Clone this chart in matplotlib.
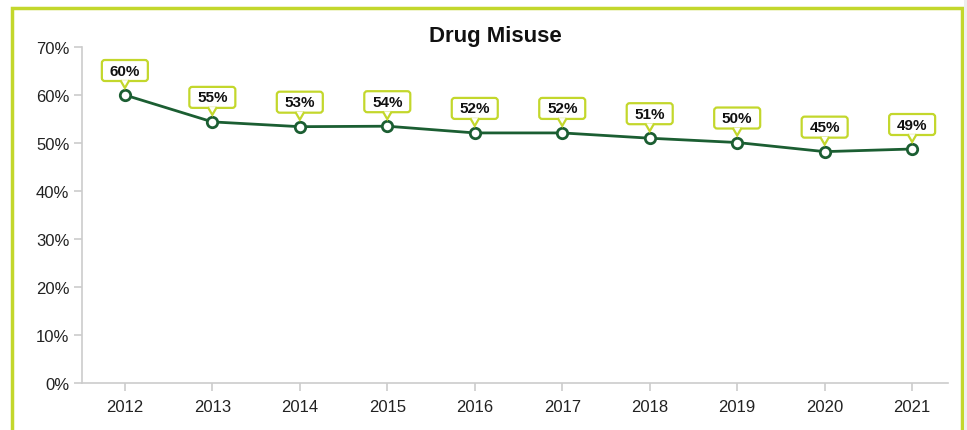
import matplotlib
matplotlib.use("Agg")
import matplotlib.pyplot as plt
from matplotlib import transforms
from matplotlib.patches import Rectangle, FancyBboxPatch, Polygon
from matplotlib.ticker import PercentFormatter

# data
years = ["2012", "2013", "2014", "2015", "2016", "2017", "2018", "2019", "2020", "2021"]
values = [60.0, 54.4, 53.4, 53.5, 52.1, 52.1, 51.0, 50.1, 48.2, 48.75]
labels = ["60%", "55%", "53%", "54%", "52%", "52%", "51%", "50%", "45%", "49%"]
y_ticks = [0, 10, 20, 30, 40, 50, 60, 70]

line_color = "#1b5e32"
lime = "#c3d72c"
axis_gray = "#cccccc"

plt.rcParams["font.family"] = ["Liberation Sans", "DejaVu Sans"]

fig = plt.figure(figsize=(9.67, 4.31), dpi=100)
W, H = 967.0, 431.0

# lime frame around the chart (bottom edge is cut off in the reference)
fig.patches.append(Rectangle((12 / W, -0.05), 950 / W, 1.05 - 9 / H,
                             transform=fig.transFigure, fill=False,
                             ec=lime, lw=2.5, zorder=0))
fig.patches.append(Rectangle((964 / W, 0), 3 / W, 1,
                             transform=fig.transFigure, fc="#eeeeee",
                             ec="none", zorder=0))

ax = fig.add_axes([82 / W, 1 - 384 / H, (948 - 82) / W, (384 - 48) / H])
x = list(range(len(years)))

ax.set_xlim(-0.49, 9.41)
ax.set_ylim(0, 70)

ax.plot(x, values, color=line_color, lw=2, zorder=3)
ax.plot(x, values, linestyle="none", marker="o", ms=7.5, mfc="white",
        mec=line_color, mew=2, zorder=4)

# callout boxes with a small pointer, sized in pixels around each point
px = transforms.Affine2D().scale(fig.dpi / 100.0)
bw, bh, gap, tip = 46, 21, 14, 7
for xi, v, lab in zip(x, values, labels):
    tr = px + transforms.ScaledTranslation(xi, v, ax.transData)
    box = FancyBboxPatch((-bw / 2, gap), bw, bh,
                         boxstyle="round,pad=0,rounding_size=3",
                         fc="white", ec=lime, lw=1.6, transform=tr,
                         zorder=5, clip_on=False)
    ax.add_patch(box)
    notch = Polygon([(-4.5, gap + 0.8), (0, tip), (4.5, gap + 0.8)],
                    closed=False, fc="white", ec=lime, lw=1.6,
                    transform=tr, zorder=6, clip_on=False)
    ax.add_patch(notch)
    ax.text(0, gap + bh / 2, lab, transform=tr, ha="center", va="center",
            fontsize=11, fontweight="bold", color="#111111", zorder=7)

ax.set_xticks(x)
ax.set_xticklabels(years)
ax.set_yticks(y_ticks)
ax.yaxis.set_major_formatter(PercentFormatter(decimals=0))

for s in ("top", "right"):
    ax.spines[s].set_visible(False)
for s in ("left", "bottom"):
    ax.spines[s].set_color(axis_gray)
    ax.spines[s].set_linewidth(1.2)
ax.tick_params(colors=axis_gray, labelcolor="#222222", labelsize=12,
               length=5.5, width=1.2)
ax.tick_params(axis="x", pad=6)

fig.text(495 / W, 1 - 42 / H, "Drug Misuse", ha="center", va="baseline",
         fontsize=16, fontweight="bold", color="#111111")

fig.savefig("out.png", dpi=100, facecolor="white")
